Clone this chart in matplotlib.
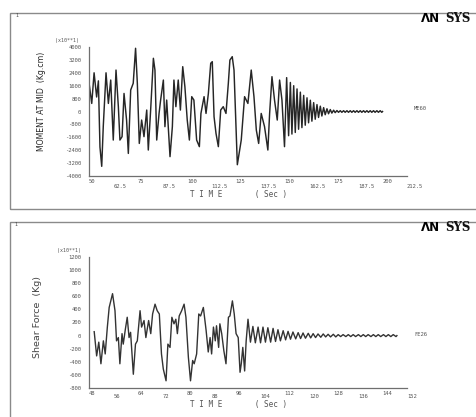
import matplotlib
matplotlib.use("Agg")
import matplotlib.pyplot as plt
from matplotlib.patches import Rectangle

# ---------------- data ----------------
moment_time = [50.2, 51.4, 52.6, 53.9, 54.8, 55.6, 56.5, 57.3, 58.7, 59.9, 61.1, 62.4,
               63.8, 65.0, 65.8, 66.9, 67.9, 69.2, 70.1, 71.3, 72.6, 73.8, 74.7, 75.7,
               76.9, 78.1, 79.5, 80.3, 81.5, 82.9, 83.7, 84.6, 85.8, 86.6, 88.0, 88.8,
               89.7, 90.5, 91.4, 92.6, 93.4, 94.4, 95.6, 96.7, 97.9, 99.0, 100.2, 101.3,
               102.5, 103.6, 105.0, 106.4, 107.2, 108.8, 109.8, 111.0, 112.2, 113.0,
               113.9, 114.9, 116.1, 117.3, 118.6, 120.0, 121.2, 122.0, 123.2, 124.1,
               125.8, 127.8, 129.5, 131.2, 132.9, 134.3, 135.5, 136.7, 138.0, 139.7,
               141.4, 142.3, 143.5, 144.8, 146.2, 147.4, 148.6, 149.9,
               151.0, 152.0, 152.9, 153.7, 154.6, 155.4, 156.3, 157.1, 158.0, 158.8,
               159.7, 160.5, 161.4, 162.2, 163.1, 163.9, 164.8, 165.6, 166.5, 167.3,
               168.2, 169.0, 169.9, 170.7, 171.6, 172.4, 173.3, 174.1, 175.0, 175.8,
               176.7, 177.5, 178.4, 179.2, 180.1, 180.9, 181.8, 182.6, 183.5, 184.3,
               185.2, 186.0, 186.9, 187.7, 188.6, 189.4, 190.3, 191.1, 192.0, 192.8,
               193.7, 194.5, 195.4, 196.2, 197.1, 197.9, 198.8, 199.6, 200.0]
moment_vals = [1600, 500, 2400, 900, 1900, -2200, -3400, -900, 2400, 500, 1950, -1770,
               2570, 300, -1770, -1560, 1120, -530, -2600, 1330, 1750, 3920, 1750, -1980,
               -530, -1560, 90, -2390, 90, 3300, 2570, -1770, -120, 710, 1950, -940,
               710, -940, -2800, -940, 1950, 300, 1950, 90, 2780, 1540, -530, -1770,
               920, 710, -1770, -2180, -120, 920, -120, 1120, 2990, 3090,
               -320, -1360, -2180, 90, 300, -120, 1750, 3190, 3400, 2570,
               -3300, -1770, 920, 500, 2570, 920, -1150, -1980, -120, -940,
               -2390, -120, 2160, 710, -530, 1950, 710, -2180,
               2100, -1500, 1800, -1400, 1600, -1300, 1400, -1100, 1200, -1000,
               1000, -850, 850, -700, 700, -600, 550, -480, 430, -370,
               330, -280, 240, -200, 170, -140, 120, -100, 80, -70,
               60, -50, 50, -50, 50, -50, 50, -50, 50, -50,
               50, -50, 50, -50, 50, -50, 50, -50, 50, -50,
               50, -50, 50, -50, 50, -50, 50, -50, 0]

shear_time = [49.7, 50.5, 51.2, 51.9, 52.7, 53.3, 54.0, 54.6, 55.7, 56.5, 57.0, 57.6,
              58.1, 58.8, 59.2, 59.9, 60.5, 61.1, 61.6, 62.5, 63.2, 63.8, 64.7, 65.2,
              66.0, 66.6, 67.5, 68.2, 68.8, 69.6, 70.3, 71.0, 71.7, 72.3, 73.2, 73.8,
              74.5, 75.1, 75.8, 76.4, 76.9, 77.5, 78.3, 79.1, 79.7, 80.5, 81.2, 81.9,
              82.4, 83.2, 83.9, 84.5, 85.4, 86.3, 87.0, 87.6, 88.1, 88.7, 89.3, 89.7,
              90.4, 90.8, 91.4, 92.1, 92.8, 93.6, 94.1, 94.9, 95.5, 96.1, 96.8, 97.4,
              97.8, 98.3, 98.9, 99.4, 100.0,
              100.8, 101.6, 102.4, 103.3, 104.1, 104.9, 105.7, 106.5, 107.4, 108.2,
              109.0, 109.8, 110.6, 111.5, 112.3, 113.1, 113.9, 114.7, 115.6, 116.4,
              117.2, 118.0, 118.8, 119.7, 120.5, 121.3, 122.1, 122.9, 123.8, 124.6,
              125.4, 126.2, 127.0, 127.9, 128.7, 129.5, 130.3, 131.1, 132.0, 132.8,
              133.6, 134.4, 135.2, 136.1, 136.9, 137.7, 138.5, 139.3, 140.2, 141.0,
              141.8, 142.6, 143.4, 144.3, 145.1, 145.9, 146.7, 147.5, 148.4, 148.7]
shear_vals = [60, -310, -100, -430, -80, -280, 130, 430, 640, 380, -80, -30,
              -430, 30, -130, 100, 280, -30, 50, -590, -130, -80, 380, 130,
              230, -30, 230, 30, 330, 480, 380, 330, -280, -510, -690, -130,
              -180, 280, 180, 250, 30, 300, 380, 480, 280, -330, -690, -380,
              -430, -280, 330, 300, 430, 80, -250, -30, -280, 130, -80, 150,
              -180, 180, 30, -230, -430, 280, 300, 530, 330, 30, -30, -560,
              -430, -180, -540, -80, 250,
              -100, 140, -110, 130, -110, 130, -100, 120, -100, 110,
              -90, 90, -80, 75, -65, 65, -55, 55, -50, 45,
              -45, 40, -40, 35, -35, 30, -30, 25, -25, 25,
              -20, 20, -20, 20, -20, 15, -15, 15, -15, 15,
              -15, 15, -15, 15, -15, 15, -15, 15, -15, 15,
              -15, 15, -15, 15, -15, 15, -15, 15, -15, 0]

top_major_x = [50, 75, 100, 125, 150, 175, 200]
top_minor_x = [62.5, 87.5, 112.5, 137.5, 162.5, 187.5, 212.5]
top_y_ticks = [4000, 3200, 2400, 1600, 800, 0, -800, -1600, -2400, -3200, -4000]
bot_major_x = [48, 64, 80, 96, 112, 128, 144]
bot_minor_x = [56, 72, 88, 104, 120, 136, 152]
bot_y_ticks = [1200, 1000, 800, 600, 400, 200, 0, -200, -400, -600, -800]

top_ylabel = "MOMENT AT MID  (Kg.cm)"
bot_ylabel = "Shear Force  (Kg)"
xlabel_text = "T I M E       ( Sec )"
top_curve_name = "ME60"
bot_curve_name = "FE26"
scale_text = "(x10**1)"

# ---------------- layout ----------------
W, H = 476, 417
fig = plt.figure(figsize=(W / 100, H / 100), dpi=100)
fig.patch.set_facecolor("white")


def fx(x):
    return x / W


def fy(y):
    return 1 - y / H


tick_col = "#555555"
mono = "DejaVu Sans Mono"

# panel frames
for (x0, y0, y1) in [(10, 13, 209), (10, 222, 430)]:
    fig.add_artist(Rectangle((fx(x0), fy(y1)), fx(500 - x0), (y1 - y0) / H,
                             transform=fig.transFigure, fill=False,
                             edgecolor="#8a8a8a", lw=1.0, clip_on=False))


def fmt(v):
    return ("%g" % v)


def style_axes(ax, xlim, ylim, major_x, minor_x, yticks, pad_major, pad_minor):
    ax.set_xlim(*xlim)
    ax.set_ylim(*ylim)
    for s in ["top", "right"]:
        ax.spines[s].set_visible(False)
    for s in ["left", "bottom"]:
        ax.spines[s].set_color("#6f6f6f")
        ax.spines[s].set_linewidth(0.9)
    ax.set_xticks(major_x)
    ax.set_xticklabels([fmt(v) for v in major_x])
    ax.set_xticks(minor_x, minor=True)
    ax.set_xticklabels([fmt(v) for v in minor_x], minor=True)
    ax.set_yticks(yticks)
    ax.set_yticklabels([fmt(v) for v in yticks])
    ax.tick_params(axis="x", which="major", length=0, pad=pad_major,
                   labelsize=4, labelcolor=tick_col)
    ax.tick_params(axis="x", which="minor", length=0, pad=pad_minor,
                   labelsize=4, labelcolor=tick_col)
    ax.tick_params(axis="y", length=0, pad=5.5, labelsize=4, labelcolor=tick_col)
    for lab in ax.get_xticklabels(which="both"):
        lab.set_horizontalalignment("left")
        lab.set_family(mono)
    for lab in ax.get_yticklabels():
        lab.set_family(mono)
    ax.set_facecolor("none")


ax1 = fig.add_axes([fx(89), fy(176), 318 / W, 129 / H])
ax1.plot(moment_time, moment_vals, color="#262626", lw=1.05)
style_axes(ax1, (50, 212.5), (-4000, 4000), top_major_x, top_minor_x,
           top_y_ticks, 2.5, 6.0)

ax2 = fig.add_axes([fx(89), fy(388), 318 / W, 131 / H])
ax2.plot(shear_time, shear_vals, color="#333333", lw=1.0)
style_axes(ax2, (48, 152), (-800, 1200), bot_major_x, bot_minor_x,
           bot_y_ticks, 2.0, 4.5)

# texts
narrow = ["Liberation Sans Narrow", "DejaVu Sans"]
fig.text(fx(41), fy(101), top_ylabel, rotation=90, ha="center", va="center",
         fontsize=5.6, color="#262626", family=narrow)
fig.text(fx(38), fy(317), bot_ylabel, rotation=90, ha="center", va="center",
         fontsize=6.8, color="#444444", family=narrow)

for yy in (195, 404.5):
    fig.text(fx(190), fy(yy), xlabel_text, ha="left", va="center",
             fontsize=5.5, color="#555555", family=mono)

fig.text(fx(55), fy(40.5), scale_text, ha="left", va="center",
         fontsize=3.6, color=tick_col, family=mono)
fig.text(fx(57), fy(250.5), scale_text, ha="left", va="center",
         fontsize=3.6, color=tick_col, family=mono)

fig.text(fx(414), fy(108.5), top_curve_name, ha="left", va="center",
         fontsize=4, color=tick_col, family=mono)
fig.text(fx(414), fy(334), bot_curve_name, ha="left", va="center",
         fontsize=4, color=tick_col, family=mono)

fig.text(fx(15), fy(15.5), "1", ha="left", va="center", fontsize=3.5,
         color="#444444", family=mono)
fig.text(fx(14), fy(224.5), "1", ha="left", va="center", fontsize=3.5,
         color="#444444", family=mono)

for yy in (18.5, 227.5):
    fig.text(fx(421), fy(yy), "\u039bN", ha="left", va="center", fontsize=8.5,
             weight="bold", color="black", family="DejaVu Sans")
    fig.text(fx(445), fy(yy), "SYS", ha="left", va="center", fontsize=8.5,
             weight="bold", color="#111111", family="DejaVu Serif")

fig.savefig("out.png", dpi=100, facecolor="white")
